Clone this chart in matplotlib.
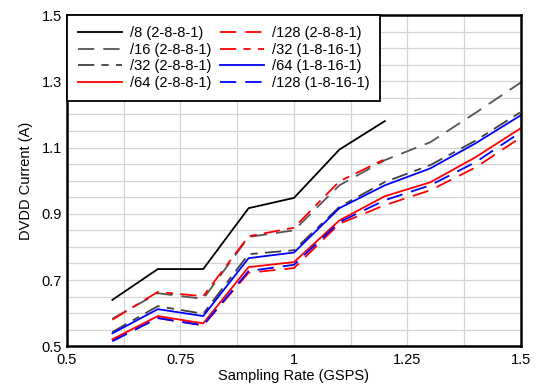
import matplotlib

matplotlib.use("Agg")
import matplotlib.pyplot as plt
from matplotlib.ticker import MultipleLocator

plt.rcParams["font.family"] = ["Liberation Sans", "DejaVu Sans"]

# Sampling rate (GSPS) and DVDD current (A) per configuration
rate = [0.6, 0.7, 0.8, 0.9, 1.0, 1.1, 1.2, 1.3, 1.4, 1.5]
rate_short = [0.6, 0.7, 0.8, 0.9, 1.0, 1.1, 1.2]

div8_2881 = [0.640, 0.733, 0.733, 0.917, 0.948, 1.094, 1.180]
div16_2881 = [0.583, 0.660, 0.643, 0.830, 0.850, 0.986, 1.062, 1.116, 1.205, 1.297]
div32_2881 = [0.543, 0.621, 0.598, 0.778, 0.790, 0.921, 0.996, 1.047, 1.121, 1.208]
div64_2881 = [0.521, 0.591, 0.569, 0.739, 0.754, 0.880, 0.953, 0.995, 1.071, 1.159]
div128_2881 = [0.517, 0.585, 0.563, 0.722, 0.736, 0.870, 0.926, 0.971, 1.040, 1.131]
div32_18161 = [0.580, 0.664, 0.651, 0.832, 0.858, 0.998, 1.065]
div64_18161 = [0.539, 0.612, 0.591, 0.766, 0.783, 0.917, 0.986, 1.037, 1.113, 1.198]
div128_18161 = [0.515, 0.585, 0.563, 0.727, 0.746, 0.875, 0.941, 0.986, 1.056, 1.147]

x_ticks = [0.5, 0.75, 1.0, 1.25, 1.5]
y_ticks = [0.5, 0.7, 0.9, 1.1, 1.3, 1.5]

fig, ax = plt.subplots(figsize=(5.36, 3.89), dpi=100)
fig.subplots_adjust(left=0.125, right=0.972, top=0.961, bottom=0.11)

ax.plot(rate_short, div8_2881, color="black", lw=1.3, label="/8 (2-8-8-1)")
ax.plot(rate, div16_2881, color="#555555", lw=1.3, dashes=(9, 5), label="/16 (2-8-8-1)")
ax.plot(rate, div32_2881, color="#404040", lw=1.3, dashes=(9, 4, 4, 4), label="/32 (2-8-8-1)")
ax.plot(rate, div64_2881, color="red", lw=1.3, label="/64 (2-8-8-1)")
ax.plot(rate, div128_2881, color="red", lw=1.3, dashes=(9, 5), label="/128 (2-8-8-1)")
ax.plot(rate_short, div32_18161, color="red", lw=1.3, dashes=(9, 4, 4, 4), label="/32 (1-8-16-1)")
ax.plot(rate, div64_18161, color="blue", lw=1.3, label="/64 (1-8-16-1)")
ax.plot(rate, div128_18161, color="blue", lw=1.3, dashes=(9, 5), label="/128 (1-8-16-1)")

ax.set_xlim(0.5, 1.5)
ax.set_ylim(0.5, 1.5)
ax.set_xticks(x_ticks)
ax.set_yticks(y_ticks)
ax.xaxis.set_minor_locator(MultipleLocator(0.125))
ax.yaxis.set_minor_locator(MultipleLocator(0.05))
ax.xaxis.set_major_formatter(plt.FuncFormatter(lambda v, _: f"{v:g}"))
ax.yaxis.set_major_formatter(plt.FuncFormatter(lambda v, _: f"{v:g}"))
ax.tick_params(which="both", length=0, labelsize=10.5)
ax.tick_params(axis="x", pad=5)
ax.grid(which="both", color="#d4d4d4", lw=0.9)
ax.set_axisbelow(True)
for spine in ax.spines.values():
    spine.set_linewidth(1.8)

ax.set_xlabel("Sampling Rate (GSPS)", fontsize=10.5, labelpad=1)
ax.set_ylabel("DVDD Current (A)", fontsize=10.5, labelpad=6)

leg = ax.legend(loc="upper left", ncol=2, fontsize=10.5, fancybox=False,
                edgecolor="black", framealpha=1, borderaxespad=0,
                borderpad=0.75, handlelength=3.0, columnspacing=0.6,
                labelspacing=0.18, handletextpad=0.55)
leg.get_frame().set_linewidth(1.3)

fig.savefig("out.png", dpi=100)
